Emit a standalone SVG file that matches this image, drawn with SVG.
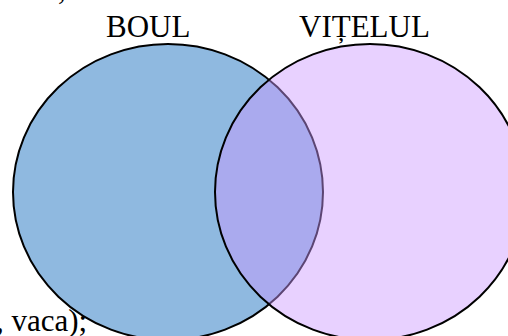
<svg xmlns="http://www.w3.org/2000/svg" width="508" height="336" viewBox="0 0 508 336">
<style>
.t{font-family:"Liberation Serif","Times New Roman",serif;font-size:31px;fill:#000}
.c{stroke:#000;stroke-width:2}
</style>
<rect width="508" height="336" fill="#fff"/>
<text class="t" x="58" y="-1">,</text>
<g id="boul">
<ellipse class="c" cx="168" cy="192" rx="155" ry="148" fill="#8fb9e0"/>
<text class="t" x="106" y="37">BOUL</text>
</g>
<g id="vitelul">
<ellipse class="c" cx="370" cy="192" rx="155" ry="148" fill="#cc99ff" fill-opacity="0.45"/>
<text class="t" x="299" y="37">VIȚELUL</text>
</g>
<g id="connectors"></g>
<text class="t" x="-4" y="331">, vaca);</text>
</svg>
